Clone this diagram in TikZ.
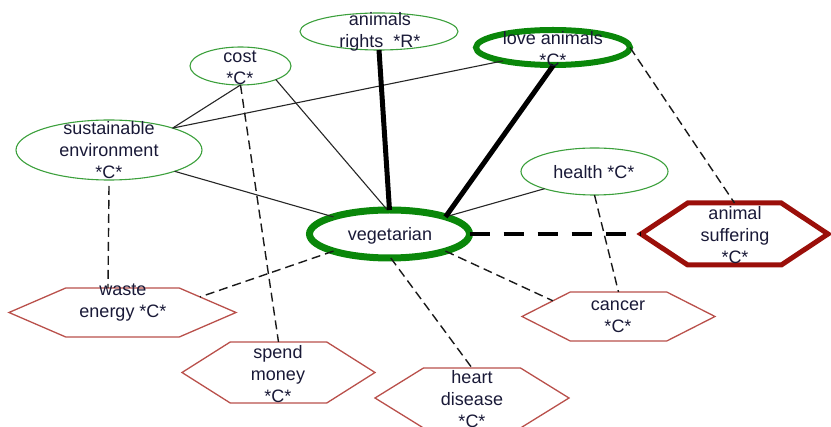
\documentclass[tikz,border=0pt]{standalone}
\usepackage{fontspec}
\setmainfont{Liberation Sans}
\usetikzlibrary{shapes.geometric,calc}
\definecolor{gthin}{RGB}{60,160,60}
\definecolor{gthick}{RGB}{10,135,10}
\definecolor{rthin}{RGB}{185,80,75}
\definecolor{rthick}{RGB}{155,15,10}
\definecolor{txtc}{RGB}{25,25,55}
\newcommand\hexdraw[2]{%
  \coordinate (#2-w) at (#2.west);
  \coordinate (#2-e) at (#2.east);
  \coordinate (#2-nw) at ($(#2.north west)!0.25!(#2.north east)$);
  \coordinate (#2-ne) at ($(#2.north west)!0.75!(#2.north east)$);
  \coordinate (#2-sw) at ($(#2.south west)!0.25!(#2.south east)$);
  \coordinate (#2-se) at ($(#2.south west)!0.75!(#2.south east)$);
  \draw[#1] (#2-w) -- (#2-nw) -- (#2-ne) -- (#2-e) -- (#2-se) -- (#2-sw) -- cycle;}
\tikzset{
  ell/.style={ellipse, draw=gthin, line width=1.1pt, inner sep=0pt, outer sep=0pt},
  ellthick/.style={ellipse, draw=gthick, inner sep=0pt, outer sep=0pt},
  hexbox/.style={rectangle, draw=none, inner sep=0pt, outer sep=0pt},
  hexthin/.style={draw=rthin, line width=1.3pt, line join=miter},
  hexthick/.style={draw=rthick, line width=5pt, line join=miter},
  txt/.style={align=center, text=txtc, inner sep=0pt, font=\fontsize{18}{22}\selectfont},
  solid1/.style={draw=black!85, line width=1.1pt},
  solid3/.style={draw=black, line width=5pt},
  dash1/.style={draw=black!90, line width=1.4pt, dash pattern=on 9pt off 5pt},
  dash3/.style={draw=black, line width=4pt, dash pattern=on 20pt off 14pt},
}
\begin{document}
\begin{tikzpicture}[x=1pt,y=-1pt]
\useasboundingbox (0,0) rectangle (831,427);
\node[ell, minimum width=158pt, minimum height=37pt] (ar) at (379,31.5) {};
\node[ell, minimum width=101pt, minimum height=38pt] (cost) at (240.5,66) {};
\node[ellthick, line width=6pt, minimum width=154pt, minimum height=35pt] (love) at (553,47.5) {};
\node[ell, minimum width=186pt, minimum height=60pt] (sust) at (109,150) {};
\node[ell, minimum width=147pt, minimum height=47pt] (health) at (594.5,171.5) {};
\node[ellthick, line width=7pt, minimum width=160pt, minimum height=48pt] (veg) at (389.5,234) {};
\node[hexbox, minimum width=187pt, minimum height=62pt] (asuf) at (734.5,234) {};
\node[hexbox, minimum width=227pt, minimum height=49pt] (waste) at (122.5,312.5) {};
\node[hexbox, minimum width=193pt, minimum height=61pt] (spend) at (278.5,372.5) {};
\node[hexbox, minimum width=193pt, minimum height=49pt] (cancer) at (618.5,316.5) {};
\node[hexbox, minimum width=194pt, minimum height=60pt] (heart) at (472,398) {};
\hexdraw{hexthick}{asuf}
\hexdraw{hexthin}{waste}
\hexdraw{hexthin}{spend}
\hexdraw{hexthin}{cancer}
\hexdraw{hexthin}{heart}
% solid thin
\draw[solid1] (cost.south) -- (sust.19);
\draw[solid1] (sust.19) -- (love.195);
\draw[solid1] (cost.-21) -- (veg.95);
\draw[solid1] (sust.-18) -- (veg.163);
\draw[solid1] (health.199) -- (veg.17);
% thick solid
\draw[solid3] (ar.south) -- (veg.north);
\draw[solid3] (love.-88) -- (veg.17);
% dashed thin
\draw[dash1] (cost.south) -- (spend.north);
\draw[dash1] ([yshift=-6pt]sust.south) -- ($(waste-nw)!0.372!(waste-ne)$);
\draw[dash1] (veg.197) -- ($(waste-ne)!0.366!(waste-e)$);
\draw[dash1] (love.east) -- (asuf.north);
\draw[dash1] (health.south) -- (cancer.north);
\draw[dash1] (veg.-17) -- ($(cancer-w)!0.64!(cancer-nw)$);
\draw[dash1] (veg.-87) -- (heart.north);
% dashed thick
\draw[dash3] (veg.east) -- (asuf-w);
% texts
\node[txt] (arT) at (380,31.5) {animals\\rights \ *R*};
\node[txt] (costT) at (240,68) {cost\\*C*};
\node[txt] (loveT) at (553,49.5) {love animals\\*C*};
\node[txt] (sustT) at (109,150) {sustainable\\environment\\*C*};
\node[txt] (healthT) at (594,172) {health *C*};
\node[txt] (vegT) at (390,236) {vegetarian};
\node[txt] (asufT) at (735,235) {animal\\suffering\\*C*};
\node[txt] (wasteT) at (123,302.5) {waste\\energy *C*};
\node[txt] (spendT) at (278,374.5) {spend\\money\\*C*};
\node[txt] (cancerT) at (618,317) {cancer\\*C*};
\node[txt] (heartT) at (472,399.5) {heart\\disease\\*C*};
\end{tikzpicture}
\end{document}
